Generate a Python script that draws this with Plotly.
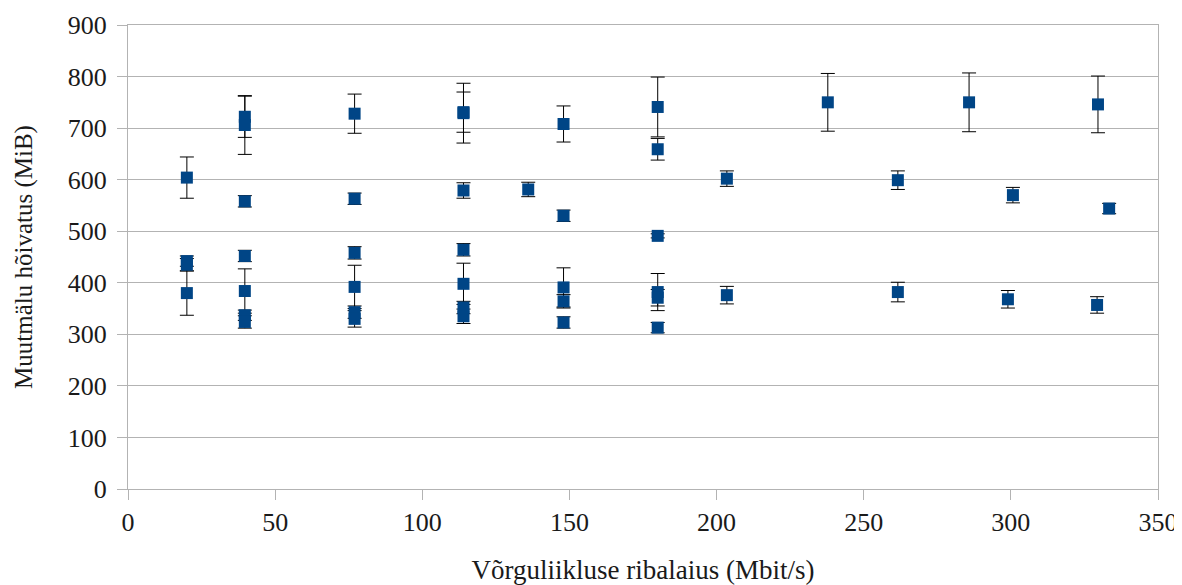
import plotly.graph_objects as go

# Bandwidth (Mbit/s)
bandwidth = [20, 20, 20, 20,
             39.7, 39.7, 39.7, 39.7, 39.7, 39.7, 39.7,
             77, 77, 77, 77, 77, 77,
             114, 114, 114, 114, 114, 114, 114,
             136,
             148, 148, 148, 148, 148,
             180, 180, 180, 180, 180, 180,
             203.5, 203.5,
             237.8,
             261.6, 261.6,
             285.8,
             300.7, 299,
             329.6, 333.4, 329.3]
# Memory usage (MiB)
memory = [604, 442, 435, 380,
          722, 706, 558, 452, 384, 337, 324,
          728, 563, 458, 392, 343, 330,
          731, 729, 579, 464, 398, 352, 335,
          581,
          708, 530, 391, 364, 323,
          741, 659, 491, 382, 371, 313,
          602, 376,
          750,
          599, 382,
          750,
          570, 368,
          746, 544, 357]
# Error (MiB)
error = [40, 10, 12, 43,
         40, 57, 11, 11, 43, 10, 12,
         38, 11, 12, 42, 12, 16,
         39, 58, 15, 12, 40, 12, 14,
         14,
         35, 11, 38, 13, 11,
         58, 21, 4, 36, 16, 10,
         15, 17,
         56,
         18, 19,
         57,
         15, 17,
         55, 10, 16]

x_ticks = [0, 50, 100, 150, 200, 250, 300, 350]
y_ticks = [0, 100, 200, 300, 400, 500, 600, 700, 800, 900]

FONT = "Liberation Serif, 'Times New Roman', Times, serif"
TXT = "#1a1a1a"

fig = go.Figure()
fig.add_trace(go.Scatter(
    x=bandwidth, y=memory, mode="markers",
    marker=dict(symbol="square", size=12, color="#004586",
                line=dict(width=0)),
    error_y=dict(type="data", array=error, visible=True,
                 color="black", thickness=1, width=7),
    showlegend=False,
))

# the page places the figure 8px from the top-left corner
fig.update_layout(
    width=1174, height=577,
    paper_bgcolor="white", plot_bgcolor="white",
    margin=dict(l=120, r=24, t=16.5, b=96),
    font=dict(family=FONT, size=26, color=TXT),
    xaxis=dict(
        range=[0, 350], tickvals=x_ticks, showgrid=False, zeroline=False,
        showline=True, linecolor="#b3b3b3", linewidth=1, mirror=True,
        ticks="outside", ticklen=10, tickcolor="#b3b3b3",
        tickfont=dict(family=FONT, size=26, color=TXT),
        ticklabeloverflow="allow",
        automargin=False,
        title=dict(text="Võrguliikluse ribalaius (Mbit/s)",
                   font=dict(family=FONT, size=27, color=TXT), standoff=35),
    ),
    yaxis=dict(
        range=[0, 900], tickvals=y_ticks, showgrid=True, gridcolor="#b3b3b3",
        gridwidth=1, zeroline=False,
        showline=True, linecolor="#b3b3b3", linewidth=1, mirror=True,
        ticks="outside", ticklen=10, tickcolor="#b3b3b3",
        tickfont=dict(family=FONT, size=26, color=TXT),
        ticklabelstandoff=5,
        automargin=False,
        title=dict(text="Muutmälu hõivatus (MiB)",
                   font=dict(family=FONT, size=25, color=TXT), standoff=28),
    ),
)

fig.write_html("out.html")
